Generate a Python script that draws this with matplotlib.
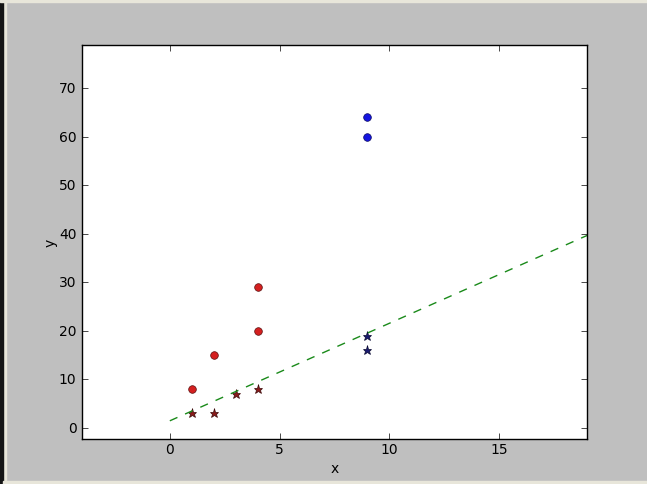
import matplotlib
matplotlib.use("Agg")
import matplotlib.pyplot as plt
from matplotlib.patches import Rectangle
import numpy as np

plt.style.use("classic")

# Data
red_circ_x = [1, 2, 4, 4]
red_circ_y = [8, 15, 20, 29]
red_star_x = [1, 2, 3, 4]
red_star_y = [3, 3, 7, 8]
blue_circ_x = [9, 9]
blue_circ_y = [60, 64]
blue_star_x = [9, 9]
blue_star_y = [16, 19]
line_x = [0, 19]
line_slope = 2.01
line_intercept = 1.45

W, H = 647, 485
fig = plt.figure(figsize=(W / 100, H / 100), dpi=100, facecolor="#bfbfbf")

# window frame strips
fig.patches.append(Rectangle((0, 0), 6 / W, 1, transform=fig.transFigure, color="#e8e6da", zorder=-1))
fig.patches.append(Rectangle((0, 0), 2.5 / W, 1, transform=fig.transFigure, color="#151515", zorder=-1))
fig.patches.append(Rectangle((0, 1 - 3 / H), 1, 3 / H, transform=fig.transFigure, color="#e8e6da", zorder=-1))
fig.patches.append(Rectangle((2.5 / W, 0), 1, 3.5 / H, transform=fig.transFigure, color="#e8e6da", zorder=-1))

ax = fig.add_axes([82 / W, 1 - 440 / H, (587 - 82) / W, (440 - 46) / H])

ax.plot(red_circ_x, red_circ_y, "o", color="#d42020", markeredgecolor="#5a1010", markersize=5.5)
ax.plot(red_star_x, red_star_y, "*", color="#8a1a1a", markeredgecolor="#3a0a0a", markersize=6.5)
ax.plot(blue_circ_x, blue_circ_y, "o", color="#1515e0", markeredgecolor="#0a0a60", markersize=5.5)
ax.plot(blue_star_x, blue_star_y, "*", color="#1a1a70", markeredgecolor="#0a0a30", markersize=6.5)
lx = np.array(line_x, dtype=float)
ax.plot(lx, line_slope * lx + line_intercept, "--", color="#1a8a1a", linewidth=1)

ax.set_xlim(-4, 19)
ax.set_ylim(-2.3, 78.9)
ax.set_xticks([0, 5, 10, 15])
ax.set_yticks([0, 10, 20, 30, 40, 50, 60, 70])
ax.tick_params(labelsize=10)
ax.tick_params(axis="x", pad=2)
ax.set_xlabel("x", fontsize=10, labelpad=4)
ax.set_ylabel("y", fontsize=10, labelpad=1)

fig.savefig("out.png", dpi=100, facecolor=fig.get_facecolor())
